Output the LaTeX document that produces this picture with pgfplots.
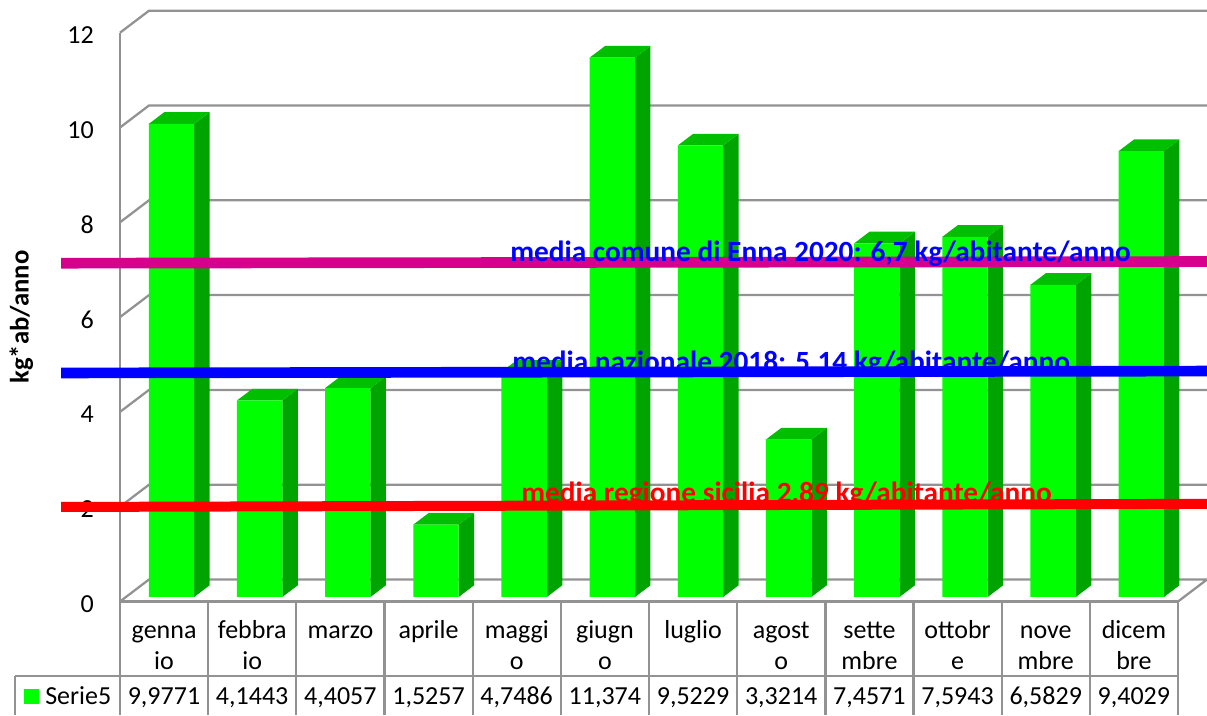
\documentclass[border=0pt]{standalone}
\usepackage{pgfplots}
\usepackage{pgfplotstable}
\usepackage{fontspec}
\pgfplotsset{compat=1.18}
\setmainfont{Carlito}
\definecolor{gridg}{HTML}{929292}
\definecolor{barF}{HTML}{00FF00}
\definecolor{barS}{HTML}{00A400}
\definecolor{barT}{HTML}{00BE00}
\definecolor{magline}{HTML}{D6008C}
\pgfplotstableread{
idx val
0 9.9771
1 4.1443
2 4.4057
3 1.5257
4 4.7486
5 11.374
6 9.5229
7 3.3214
8 7.4571
9 7.5943
10 6.5829
11 9.4029
}\rifiuti
% depth faces of one bar: #1 index, #2 value
\newcommand\barfaces[2]{%
  \pgfmathsetmacro\xa{#1+0.0794-0.2574+0.004}%
  \pgfmathsetmacro\xb{#1+0.0794+0.2574+0.004}%
  \pgfmathsetmacro\xc{#1+0.0794+0.2574+0.1758+0.004}%
  \pgfmathsetmacro\xd{#1+0.0794-0.2574+0.1758+0.004}%
  \pgfmathsetmacro\yb{0.095}%
  \pgfmathsetmacro\ybb{0.095+0.2468}%
  \pgfmathsetmacro\yt{#2+0.095}%
  \pgfmathsetmacro\ytt{#2+0.095+0.2468}%
  \addplot[fill=barS,draw=none,forget plot] coordinates {(\xb,\yb) (\xc,\ybb) (\xc,\ytt) (\xb,\yt)};
  \addplot[fill=barT,draw=none,forget plot] coordinates {(\xa,\yt) (\xb,\yt) (\xc,\ytt) (\xd,\ytt)};
}
\begin{document}
\begin{tikzpicture}
\useasboundingbox (0,0) rectangle (905.25pt,-536.25pt);
% back wall and floor (pixel coordinates)
\begin{scope}[x=0.75pt,y=-0.75pt,draw=gridg,line width=1.7pt]
  \foreach \v in {1,...,6}{
    \pgfmathsetmacro\pa{601.5-\v*94.8}
    \pgfmathsetmacro\pb{\pa-22}
    \draw (120,\pa) -- (149,\pb) -- (1207,\pb);
  }
  \draw (120,601.5) -- (149,579.5) -- (1207,579.5) -- (1178,601.5);
\end{scope}
\begin{axis}[
  at={(90pt,-451.125pt)},anchor=south west,
  scale only axis,width=793.5pt,height=426.75pt,
  xmin=-0.5,xmax=11.5,ymin=0,ymax=12,
  clip=false,no markers,
  axis x line*=bottom,axis y line*=left,
  axis line style={draw=gridg,line width=1.7pt,-},
  major tick length=0pt,
  ytick={0,2,...,12},
  xtick={0,...,11},
  xticklabels={{\strut genna\\\strut io},{\strut febbra\\\strut io},{\strut marzo},{\strut aprile},{\strut maggi\\\strut o},{\strut giugn\\\strut o},{\strut luglio},{\strut agost\\\strut o},{\strut sette\\\strut mbre},{\strut ottobr\\\strut e},{\strut nove\\\strut mbre},{\strut dicem\\\strut bre}},
  x tick label style={font=\fontsize{19.5}{23.25}\selectfont,align=center,anchor=north,yshift=-11.25pt,inner sep=0pt},
  y tick label style={font=\fontsize{19.5}{23.25}\selectfont,anchor=east,xshift=-19.5pt,yshift=-2pt,inner sep=0pt},
  /pgf/number format/assume math mode=true,
  ylabel={\textbf{kg*ab/anno}},
  every axis y label/.style={at={(axis cs:-1.62,6)},rotate=90,anchor=center,inner sep=0pt,font=\fontsize{20}{24}\selectfont},
]
\barfaces{0}{9.9771}
\barfaces{1}{4.1443}
\barfaces{2}{4.4057}
\barfaces{3}{1.5257}
\barfaces{4}{4.7486}
\barfaces{5}{11.374}
\barfaces{6}{9.5229}
\barfaces{7}{3.3214}
\barfaces{8}{7.4571}
\barfaces{9}{7.5943}
\barfaces{10}{6.5829}
\barfaces{11}{9.4029}
\addplot[ybar,bar width=34pt,bar shift=5.5pt,yshift=3.4pt,fill=barF,draw=none] table[x=idx,y=val] {\rifiuti};
\addplot[magline,line width=8pt] coordinates {(-1.168,7.135) (11.83,7.17)};
\addplot[blue,line width=8pt] coordinates {(-1.168,4.82) (11.83,4.86)};
\addplot[red,line width=7.5pt] coordinates {(-1.168,1.994) (11.83,2.06)};
\end{axis}
\begin{scope}[x=0.75pt,y=-0.75pt]
  \begin{scope}[draw=gridg,line width=1.7pt]
    \foreach \k in {0,...,12}{
      \pgfmathsetmacro\xx{120+88.17*\k}
      \draw (\xx,601.5) -- (\xx,715);
    }
    \draw (15,676) -- (1178,676);
    \draw (15,676) -- (15,715);
  \end{scope}
  \fill[barF] (24,689) rectangle (39,704);
  \node[anchor=west,inner sep=0pt,font=\fontsize{19.5}{23.25}\selectfont] at (45,698) {\strut Serie5};
  \foreach \k/\t in {0/{9,9771},1/{4,1443},2/{4,4057},3/{1,5257},4/{4,7486},5/{11,374},6/{9,5229},7/{3,3214},8/{7,4571},9/{7,5943},10/{6,5829},11/{9,4029}}{
    \pgfmathsetmacro\xx{164+88.17*\k}
    \node[inner sep=0pt,font=\fontsize{19.5}{23.25}\selectfont] at (\xx,698) {\strut\t};
  }
  \node[anchor=west,inner sep=0pt,text=blue,font=\fontsize{22}{26}\selectfont\bfseries] at (510,255) {\strut media comune di Enna 2020: 6,7 kg/abitante/anno};
  \node[anchor=west,inner sep=0pt,text=blue,font=\fontsize{22}{26}\selectfont\bfseries] at (512,365) {\strut media nazionale 2018: 5,14 kg/abitante/anno};
  \node[anchor=west,inner sep=0pt,text=red,font=\fontsize{22}{26}\selectfont\bfseries] at (521,496) {\strut media regione sicilia 2,89 kg/abitante/anno};
\end{scope}
\end{tikzpicture}
\end{document}
